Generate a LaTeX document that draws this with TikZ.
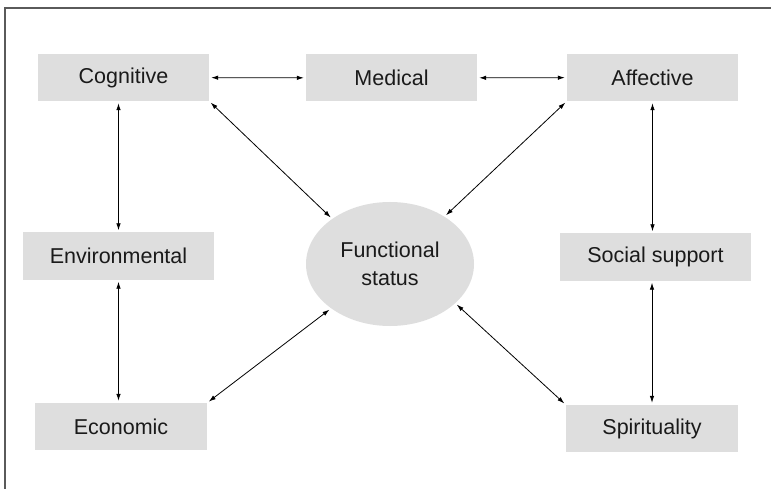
\documentclass[tikz,border=0pt]{standalone}
\usepackage{fontspec}
\setmainfont{Liberation Sans}
\usetikzlibrary{arrows.meta,shapes.geometric}
\definecolor{boxgray}{HTML}{DEDEDE}
\definecolor{txt}{HTML}{1A1A1A}
\definecolor{framegray}{HTML}{5A5A5A}
\begin{document}
\begin{tikzpicture}[x=1pt,y=-1pt,
  box/.style={fill=boxgray, draw=none, minimum height=47pt, inner sep=0pt,
    font=\fontsize{21.5}{28}\selectfont, text=txt},
  hub/.style={ellipse, fill=boxgray, draw=none, minimum width=168pt, minimum height=124pt,
    inner sep=0pt, align=center, font=\fontsize{21.5}{28}\selectfont, text=txt},
  link/.style={{Latex[length=7pt,width=4.5pt]}-{Latex[length=7pt,width=4.5pt]},
    line width=0.8pt, draw=black, shorten <=2pt, shorten >=2pt},
  framestyle/.style={draw=framegray, line width=1.4pt}]
\useasboundingbox (0,0) rectangle (771,489);
\draw[framestyle] (771,8) -- (5,8) -- (5,489);

\node[box, minimum width=171pt] (cog) at (123.5,77.5) {Cognitive};
\node[box, minimum width=171pt] (med) at (391.5,78) {Medical};
\node[box, minimum width=171pt] (aff) at (652.5,77.5) {Affective};
\node[box, minimum width=191pt] (env) at (118.5,256) {Environmental};
\node[box, minimum width=191pt] (soc) at (655.5,257) {Social support};
\node[box, minimum width=172pt] (eco) at (121,426.5) {Economic};
\node[box, minimum width=172pt] (spi) at (652,428.5) {Spirituality};
\node[hub] (fs) at (390,264) {Functional\\status};

\draw[link] (cog) -- (med);
\draw[link] (med) -- (aff);
\draw[link] (env.north |- cog.south) -- (env.north);
\draw[link] (env.south) -- (env.south |- eco.north);
\draw[link] (aff.south) -- (aff.south |- soc.north);
\draw[link] (spi.north |- soc.south) -- (spi.north);
\draw[link] (cog.south east) -- (fs.142);
\draw[link] (aff.south west) -- (fs.41);
\draw[link] (eco.north east) -- (fs.217);
\draw[link] (spi.north west) -- (fs.329);
\end{tikzpicture}
\end{document}
